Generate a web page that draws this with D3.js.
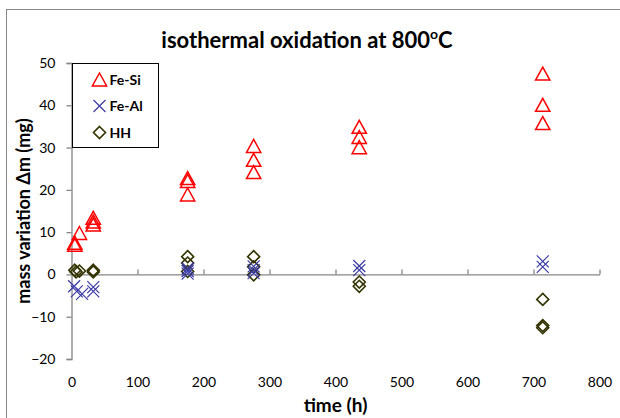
<!DOCTYPE html>
<html>
<head>
<meta charset="utf-8">
<script src="https://cdn.jsdelivr.net/npm/d3@7"></script>
<style>
  body { margin: 0; background: #fff; }
  text { font-family: Lato, "Open Sans", sans-serif; }
</style>
</head>
<body>
<div id="chart"></div>
<script>
// data: time (h) and mass variation (mg)
const feSiTime = [5, 5, 12, 33, 33, 33, 176, 176, 176, 276, 276, 276, 436, 436, 436, 714, 714, 714];
const feSiMass = [7.0, 7.5, 9.8, 13.4, 12.5, 11.8, 22.8, 22.1, 18.9, 30.4, 27.1, 24.2, 34.9, 32.5, 30.1, 47.5, 40.1, 35.8];

const feAlTime = [4, 8, 16, 33, 33, 176, 176, 176, 276, 276, 276, 436, 436, 714, 714];
const feAlMass = [-2.8, -4.0, -4.6, -3.0, -4.0, 1.4, 0.2, 0.8, 1.9, 0.3, 1.0, 1.0, 2.0, 1.8, 3.1];

const hhTime = [5, 7, 12, 33, 33, 176, 176, 176, 276, 276, 276, 436, 436, 714, 714, 714];
const hhMass = [1.0, 0.6, 0.8, 1.0, 0.6, 4.2, 2.7, 0.7, 4.2, 1.8, -0.1, -1.8, -2.8, -5.9, -12.1, -12.6];

const seriesNames = ["Fe-Si", "Fe-Al", "HH"];
const xTicks = [0, 100, 200, 300, 400, 500, 600, 700, 800];
const yTicks = [-20, -10, 0, 10, 20, 30, 40, 50];

const W = 620, H = 418;
const margin = {top: 63, right: 20.5, bottom: 59, left: 71.5};
const width = W - margin.left - margin.right;
const height = H - margin.top - margin.bottom;

const x = d3.scaleLinear().domain([0, 800]).range([0, width]);
const y = d3.scaleLinear().domain([-20, 50]).range([height, 0]);

const axisColor = "#868686";

const svg = d3.select("#chart").append("svg")
    .attr("width", W)
    .attr("height", H);

// outer chart frame
svg.append("rect")
    .attr("x", 6.5).attr("y", 9.5)
    .attr("width", W + 20).attr("height", H + 20)
    .attr("fill", "none")
    .attr("stroke", axisColor)
    .attr("stroke-width", 1);

// title
const title = svg.append("text")
    .attr("x", 307).attr("y", 48)
    .attr("text-anchor", "middle")
    .style("font-size", "22px")
    .style("font-weight", "bold")
    .text("isothermal oxidation at 800");
title.append("tspan").attr("dy", -9).style("font-size", "14px").text("o");
title.append("tspan").attr("dy", 9).text("C");

const g = svg.append("g").attr("transform", `translate(${margin.left},${margin.top})`);

// x axis at y = 0 with upward ticks
const xAxis = d3.axisTop(x).tickValues(xTicks.slice(1)).tickSize(5).tickFormat("").tickSizeOuter(0);
g.append("g")
    .attr("transform", `translate(0,${y(0)})`)
    .call(xAxis)
    .call(s => s.selectAll("path, line").attr("stroke", axisColor).attr("stroke-width", 1.3));

// x tick labels along the bottom
const xLabels = d3.axisBottom(x).tickValues(xTicks).tickSize(0).tickPadding(18);
g.append("g")
    .attr("transform", `translate(0,${height})`)
    .call(xLabels)
    .call(s => s.select(".domain").remove())
    .call(s => s.selectAll("text").style("font-family", "Lato, sans-serif").style("font-size", "14px").attr("fill", "#000"));

// y axis
const yAxis = d3.axisLeft(y).tickValues(yTicks).tickSize(5).tickSizeOuter(5).tickPadding(11);
g.append("g")
    .call(yAxis)
    .call(s => s.selectAll("path, line").attr("stroke", axisColor).attr("stroke-width", 1.3))
    .call(s => s.selectAll("text").style("font-family", "Lato, sans-serif").style("font-size", "14px").attr("fill", "#000"));

// axis titles
svg.append("text")
    .attr("transform", `translate(30,${margin.top + height / 2}) rotate(-90)`)
    .attr("text-anchor", "middle")
    .style("font-size", "18px")
    .style("font-weight", "bold")
    .text("mass variation \u0394m (mg)");

svg.append("text")
    .attr("x", margin.left + x(400))
    .attr("y", 412)
    .attr("text-anchor", "middle")
    .style("font-size", "19px")
    .style("font-weight", "bold")
    .text("time (h)");

// marker shapes
function triangle(s) {
  const w = s * 1.1, h = s;
  return `M0,${-h / 2}L${w / 2},${h / 2}L${-w / 2},${h / 2}Z`;
}
function cross(s) {
  const r = s / 2;
  return `M${-r},${-r}L${r},${r}M${-r},${r}L${r},${-r}`;
}
function diamond(s) {
  const r = s / 2;
  return `M0,${-r}L${r},0L0,${r}L${-r},0Z`;
}

const styles = [
  {shape: triangle, size: 13, color: "#ff0000", sw: 1.5},
  {shape: cross, size: 12, color: "#3a3aa6", sw: 1.2},
  {shape: diamond, size: 12, color: "#333300", sw: 1.6}
];

const series = [
  d3.zip(feSiTime, feSiMass),
  d3.zip(feAlTime, feAlMass),
  d3.zip(hhTime, hhMass)
];

// draw HH first so the triangles and crosses stay on top like the original
[2, 1, 0].forEach(i => {
  const st = styles[i];
  g.append("g").selectAll("path")
    .data(series[i])
    .join("path")
    .attr("transform", d => `translate(${x(d[0])},${y(d[1])})`)
    .attr("d", st.shape(st.size))
    .attr("fill", "none")
    .attr("stroke", st.color)
    .attr("stroke-width", st.sw);
});

// legend
const legend = svg.append("g").attr("transform", "translate(72.5,63.5)");
legend.append("rect")
    .attr("width", 86).attr("height", 84)
    .attr("fill", "#fff")
    .attr("stroke", "#000")
    .attr("stroke-width", 1);

seriesNames.forEach((name, i) => {
  const st = styles[i];
  const row = legend.append("g").attr("transform", `translate(27,${16 + i * 26.5})`);
  row.append("path")
    .attr("d", st.shape(st.size))
    .attr("fill", "none")
    .attr("stroke", st.color)
    .attr("stroke-width", st.sw);
  row.append("text")
    .attr("x", 10).attr("y", 5)
    .style("font-size", "14px")
    .style("font-weight", "bold")
    .text(name);
});
</script>
</body>
</html>
